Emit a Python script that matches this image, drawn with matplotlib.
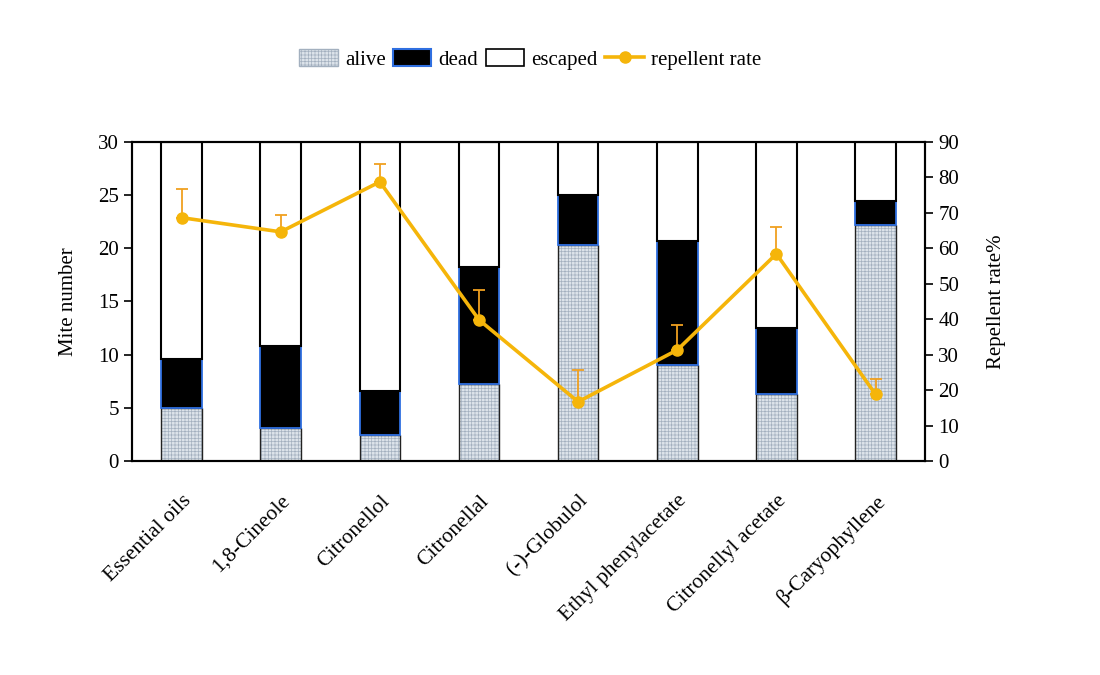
import numpy as np
import matplotlib.pyplot as plt
from matplotlib.patches import Patch
from matplotlib.lines import Line2D

plt.rcParams.update({
    'font.family': ['Liberation Serif', 'DejaVu Serif'],
    'font.size': 15,
    'hatch.linewidth': 0.5,
})

compounds = ["Essential oils", "1,8-Cineole", "Citronellol", "Citronellal",
             "(-)-Globulol", "Ethyl phenylacetate", "Citronellyl acetate",
             "\u03b2-Caryophyllene"]
alive = [5.0, 3.1, 2.4, 7.2, 20.3, 9.0, 6.3, 22.2]
dead = [4.6, 7.7, 4.2, 11.0, 4.7, 11.7, 6.2, 2.2]
total = 30
rate = [68.6, 64.6, 78.7, 39.8, 16.7, 31.3, 58.4, 18.8]
rate_err = [8.1, 4.8, 5.1, 8.5, 9.0, 7.1, 7.7, 4.2]

LINE_COLOR = '#F5B50A'
ERR_COLOR = '#F0A020'
DEAD_EDGE = '#2F6FE0'
ALIVE_FACE = '#dce3ea'
ALIVE_HATCH = '#a3b0bf'

x = np.arange(len(compounds))
alive = np.array(alive)
dead = np.array(dead)
escaped = total - alive - dead
width = 0.41

fig = plt.figure(figsize=(11, 6.75), dpi=100)
ax = fig.add_axes([0.12, 0.317, 0.721, 0.473])

# alive: grid-like dotted fill, then a plain outline on top
ax.bar(x, alive, width, color=ALIVE_FACE, edgecolor=ALIVE_HATCH, hatch='+++++', linewidth=0, zorder=2)
ax.bar(x, alive, width, fill=False, edgecolor='#222222', linewidth=1.0, zorder=3)
ax.bar(x, dead, width, bottom=alive, color='black', edgecolor=DEAD_EDGE, linewidth=1.3, zorder=3)
ax.bar(x, escaped, width, bottom=alive + dead, color='none', edgecolor='black', linewidth=1.5, zorder=4)

ax.set_xlim(-0.5, len(compounds) - 0.5)
ax.set_ylim(0, 30)
ax.set_yticks(range(0, 31, 5))
ax.set_xticks(x)
ax.set_xticklabels(compounds, rotation=45, ha='right', rotation_mode='anchor', fontsize=15.5)
ax.tick_params(axis='x', length=0, pad=22)
ax.tick_params(axis='y', direction='out', length=6, width=1.2)
ax.set_ylabel("Mite number", labelpad=14)
for s in ax.spines.values():
    s.set_linewidth(1.5)

ax2 = ax.twinx()
ax2.set_ylim(0, 90)
ax2.set_yticks(range(0, 91, 10))
ax2.tick_params(axis='y', direction='out', length=6, width=1.2)
ax2.errorbar(x, rate, yerr=[np.zeros(len(rate)), rate_err], fmt='none',
             ecolor=ERR_COLOR, elinewidth=1.3, capsize=4, capthick=1.3, zorder=4)
ax2.plot(x, rate, color=LINE_COLOR, linewidth=2.6, marker='o', markersize=8, zorder=5)
ax2.set_ylabel("Repellent rate%", labelpad=20)
for s in ax2.spines.values():
    s.set_linewidth(1.5)

handles = [
    Patch(facecolor=ALIVE_FACE, edgecolor=ALIVE_HATCH, hatch='+++++', label='alive'),
    Patch(facecolor='black', edgecolor=DEAD_EDGE, linewidth=1.5, label='dead'),
    Patch(facecolor='white', edgecolor='black', linewidth=1.2, label='escaped'),
    Line2D([0], [0], color=LINE_COLOR, lw=2.6, marker='o', markersize=8, label='repellent rate'),
]
fig.legend(handles=handles, loc='center', bbox_to_anchor=(0.482, 0.912), ncol=4,
           frameon=False, handlelength=1.85, handleheight=0.9, handletextpad=0.35,
           columnspacing=0.35, fontsize=15)

fig.savefig('out.png', dpi=100)
